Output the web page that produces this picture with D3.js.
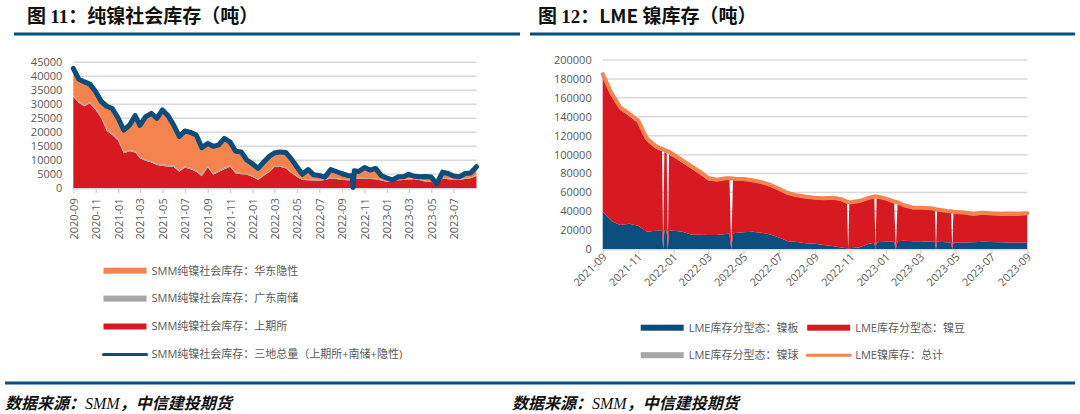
<!DOCTYPE html>
<html>
<head>
<meta charset="utf-8">
<script src="https://cdn.jsdelivr.net/npm/d3@7"></script>
<style>
  body { margin: 0; background: #fff; }
  svg { display: block; }
</style>
</head>
<body>
<div class="chart"></div>
<script>
// 图 11: SMM 纯镍社会库存 (吨), 半月取值
const smmDates = [
  '2020-09-01','2020-09-16','2020-10-01','2020-10-16','2020-11-01','2020-11-16','2020-12-01','2020-12-16',
  '2021-01-01','2021-01-16','2021-02-01','2021-02-16','2021-03-01','2021-03-16','2021-04-01','2021-04-16',
  '2021-05-01','2021-05-16','2021-06-01','2021-06-16','2021-07-01','2021-07-16','2021-08-01','2021-08-16',
  '2021-09-01','2021-09-16','2021-10-01','2021-10-16','2021-11-01','2021-11-16','2021-12-01','2021-12-16',
  '2022-01-01','2022-01-16','2022-02-01','2022-02-16','2022-03-01','2022-03-16','2022-04-01','2022-04-16',
  '2022-05-01','2022-05-16','2022-06-01','2022-06-16','2022-07-01','2022-07-16','2022-08-01','2022-08-16',
  '2022-09-01','2022-09-16','2022-09-28','2022-10-01','2022-10-04','2022-10-16','2022-11-01','2022-11-16',
  '2022-12-01','2022-12-16','2023-01-01','2023-01-16','2023-02-01','2023-02-16','2023-03-01','2023-03-16',
  '2023-04-01','2023-04-16','2023-05-01','2023-05-16','2023-06-01','2023-06-16','2023-07-01','2023-07-16',
  '2023-08-01','2023-08-16','2023-09-01'
];
const smmShfe = [
  32700,30500,29300,30300,28000,25000,20500,19000,
  17000,12500,13200,12800,10700,9800,9200,8300,
  8000,7800,7600,5900,7400,6800,5900,4300,
  7500,4800,5800,6800,7700,5300,5000,4900,
  4000,3000,4600,5800,7600,7700,7200,5500,
  4100,3000,2900,2800,2700,3000,3500,3300,
  3000,2900,2900,200,3500,3500,3400,3300,
  3200,2800,2300,2500,2900,3000,3100,3200,
  2900,2300,2300,1100,3500,3200,3000,3000,
  3300,3600,4400
];
const smmGuangdong = [
  500,500,500,500,500,500,500,500,
  500,500,500,500,500,500,500,500,
  500,500,500,500,500,500,500,500,
  500,500,500,500,500,500,500,500,
  300,300,300,300,300,300,300,300,
  300,300,300,300,300,300,300,300,
  300,300,300,100,300,300,300,300,
  300,300,300,300,300,300,300,300,
  300,300,300,300,300,300,300,300,
  300,300,300
];
const smmHuadong = [
  9600,8000,8200,6400,6000,5500,8300,9000,
  7500,7800,8900,12700,11300,15200,17100,16200,
  19500,17700,14400,12100,12600,12700,12600,9700,
  8000,9700,9200,10500,8300,7400,7500,4700,
  4400,3800,4600,5400,4700,5000,5300,4700,
  3300,1700,3500,1700,1600,700,2900,2400,
  1900,1400,1300,0,2500,2200,3700,2900,
  3600,1500,1000,200,900,900,1600,800,
  900,1600,1400,200,2000,1800,1100,800,
  1700,1600,3000
];
const smmTotal = [
  42800,39000,38000,37200,34500,31000,29300,28500,
  25000,20800,22600,26000,22500,25500,26800,25000,
  28000,26000,22500,18500,20500,20000,19000,14500,
  16000,15000,15500,17800,16500,13200,13000,10100,
  8700,7100,9500,11500,12600,13000,12800,10500,
  7700,5000,6700,4800,4600,4000,6700,6000,
  5200,4600,4500,300,6300,6000,7400,6500,
  7100,4600,3600,3000,4100,4200,5000,4300,
  4100,4200,4000,1600,5800,5300,4400,4100,
  5300,5500,7700
];
const smmYTicks = [0,5000,10000,15000,20000,25000,30000,35000,40000,45000];
const smmXTicks = ['2020-09','2020-11','2021-01','2021-03','2021-05','2021-07','2021-09','2021-11',
  '2022-01','2022-03','2022-05','2022-07','2022-09','2022-11','2023-01','2023-03','2023-05','2023-07'];

// 图 12: LME 镍库存 (吨), 0 为缺失日
const lmeDates = [
  '2021-09-01','2021-09-16','2021-10-01','2021-10-16','2021-11-01','2021-11-16','2021-12-01','2021-12-12',
  '2021-12-14','2021-12-16','2021-12-20','2021-12-22','2021-12-24','2022-01-01','2022-01-16','2022-02-01',
  '2022-02-16','2022-03-01','2022-03-16','2022-04-01','2022-04-07','2022-04-10','2022-04-13','2022-04-16',
  '2022-05-01','2022-05-16','2022-06-01','2022-06-16','2022-07-01','2022-07-16','2022-08-01','2022-08-16',
  '2022-09-01','2022-09-16','2022-10-01','2022-10-16','2022-10-26','2022-10-28','2022-10-30','2022-11-16',
  '2022-12-01','2022-12-12','2022-12-14','2022-12-16','2023-01-01','2023-01-15','2023-01-18','2023-01-21',
  '2023-02-01','2023-02-16','2023-03-01','2023-03-16','2023-03-26','2023-03-28','2023-03-30','2023-04-16',
  '2023-04-23','2023-04-25','2023-04-27','2023-05-01','2023-05-16','2023-06-01','2023-06-16','2023-07-01',
  '2023-07-16','2023-08-01','2023-08-16','2023-09-01'
];
const lmePlate = [
  39700,30000,25700,27000,25000,18600,19500,20200,
  0,20400,20200,0,20000,19500,18600,15500,
  15300,15100,15000,16200,16500,0,16800,17200,
  18000,18600,17500,15600,12500,8500,7800,6500,
  5800,4500,3500,2000,1200,0,1000,2000,
  5500,7000,0,7500,8000,8000,0,8500,
  9100,8500,8500,8000,8000,0,8000,7500,
  7300,0,7200,7200,7300,7500,8000,7600,
  7400,7200,7100,7000
];
const lmeBean = [
  142800,132500,121800,114000,108500,95900,87000,83500,
  0,82100,81000,0,80000,78000,72900,69500,
  63700,57900,57000,57300,57000,0,56500,55800,
  54800,52900,52000,50900,50000,49500,47700,47600,
  47200,47900,49500,49500,47500,0,47000,47500,
  47000,47300,0,47300,44500,41500,0,40000,
  36400,34500,34300,34500,33800,0,33000,32000,
  31800,0,31500,31300,30500,28800,29700,29200,
  28900,29300,29300,30000
];
const lmeBall = [
  2500,2500,2500,2500,2500,2500,2500,2500,
  0,2500,2500,0,2500,2500,2500,2500,
  2500,2500,1500,1500,1500,0,1500,1500,
  1500,1500,1500,1500,1500,1500,1500,1500,
  1500,1500,1500,1500,1500,0,1500,1500,
  1500,1500,0,1000,1000,1000,0,1000,
  1000,1000,1000,1000,1000,0,1000,1000,
  1000,0,1000,1000,1000,1000,1000,1000,
  1000,1000,1000,1000
];
const lmeTotal = [
  185000,165000,150000,143500,136000,117000,109000,106200,
  null,105000,104000,null,103000,100000,94000,87500,
  81500,75500,73500,75000,75000,null,74800,74500,
  74300,73000,71000,68000,64000,59500,57000,55600,
  54500,53900,54500,53000,50200,null,49500,51000,
  54000,55800,null,55800,53500,50500,null,49500,
  46500,44000,43800,43500,42800,null,42000,40500,
  40100,null,39700,39500,38800,37300,38700,37800,
  37300,37500,37400,38000
];
const lmeYTicks = [0,20000,40000,60000,80000,100000,120000,140000,160000,180000,200000];
const lmeXTicks = ['2021-09','2021-11','2022-01','2022-03','2022-05','2022-07','2022-09','2022-11',
  '2023-01','2023-03','2023-05','2023-07','2023-09'];

const NUM_FONT = "'Open Sans', 'Noto Sans CJK SC', sans-serif";
const CJK_FONT = "'Noto Sans CJK SC', sans-serif";
const LABEL_COLOR = '#595959';
const GRID_COLOR = '#d9d9d9';
const BLUE = '#0b4d7c';
const RED = '#d71a21';
const ORANGE = '#f5834e';
const GRAY = '#a6a6a6';

const parseDay = d3.timeParse('%Y-%m-%d');
const parseMonth = d3.timeParse('%Y-%m');

const svg = d3.select('.chart')
  .append('svg')
  .attr('width', 1080)
  .attr('height', 414);

/******************** 面积堆叠 + 总量线 ********************/
function drawPanel({dates, layers, totals, totalColor, totalWidth, xDomain, xRange, yDomain, yRange,
                    yTicks, xTicks, labelAngle}) {
  const x = d3.scaleTime(xDomain.map(parseDay), xRange);
  const y = d3.scaleLinear(yDomain, yRange);

  const rows = dates.map((d, i) => {
    const r = {date: parseDay(d)};
    layers.forEach(l => { r[l.key] = l.values[i]; });
    return r;
  });
  const stacked = d3.stack().keys(layers.map(l => l.key))(rows);

  const g = svg.append('g');

  // 눈금선
  g.append('g')
    .selectAll('line')
    .data(yTicks)
    .join('line')
      .attr('x1', xRange[0])
      .attr('x2', xRange[1])
      .attr('y1', d => y(d))
      .attr('y2', d => y(d))
      .attr('stroke', GRID_COLOR)
      .attr('stroke-width', 1.5);

  // y축 레이블
  g.append('g')
    .selectAll('text')
    .data(yTicks)
    .join('text')
      .attr('x', xRange[0] - 11)
      .attr('y', d => y(d))
      .attr('dy', '0.35em')
      .attr('text-anchor', 'end')
      .attr('font-family', NUM_FONT)
      .attr('font-size', 11)
      .attr('fill', LABEL_COLOR)
      .text(d => d);

  // 면적
  const area = d3.area()
    .x(d => x(d.data.date))
    .y0(d => y(d[0]))
    .y1(d => y(d[1]));
  g.append('g')
    .selectAll('path')
    .data(stacked)
    .join('path')
      .attr('fill', (d, i) => layers[i].color)
      .attr('d', area);

  // x축
  const xAxis = d3.axisBottom(x)
    .tickValues(xTicks.map(parseMonth))
    .tickFormat(d3.timeFormat('%Y-%m'))
    .tickSize(5)
    .tickSizeOuter(0);
  const ax = g.append('g')
    .attr('transform', `translate(0, ${yRange[0]})`)
    .call(xAxis);
  ax.select('.domain').attr('stroke', GRID_COLOR).attr('stroke-width', 1.5);
  ax.selectAll('.tick line').attr('stroke', GRID_COLOR).attr('stroke-width', 1.5);
  ax.selectAll('text')
    .attr('font-family', NUM_FONT)
    .attr('font-size', 11)
    .attr('fill', LABEL_COLOR)
    .attr('text-anchor', 'end');
  if (labelAngle === -90) {
    ax.selectAll('text')
      .attr('x', -10)
      .attr('y', 0)
      .attr('dy', '0.35em')
      .attr('transform', 'rotate(-90)');
  } else {
    ax.selectAll('text')
      .attr('x', -3)
      .attr('y', 5)
      .attr('dy', '0.35em')
      .attr('transform', `rotate(${labelAngle})`);
  }

  // 총량 선
  const line = d3.line()
    .x(d => x(d.date))
    .y(d => y(d.v));
  const pts = dates.map((d, i) => ({date: parseDay(d), v: totals[i]})).filter(d => d.v !== null);
  g.append('path')
    .datum(pts)
    .attr('fill', 'none')
    .attr('stroke', totalColor)
    .attr('stroke-width', totalWidth)
    .attr('stroke-linejoin', 'round')
    .attr('stroke-linecap', 'round')
    .attr('d', line);
}

drawPanel({
  dates: smmDates,
  layers: [
    {key: 'shfe', values: smmShfe, color: RED},
    {key: 'gd', values: smmGuangdong, color: GRAY},
    {key: 'hd', values: smmHuadong, color: ORANGE}
  ],
  totals: smmTotal,
  totalColor: BLUE,
  totalWidth: 5,
  xDomain: ['2020-09-01', '2023-09-01'],
  xRange: [73.3, 476.5],
  yDomain: [0, 45000],
  yRange: [188.3, 62.3],
  yTicks: smmYTicks,
  xTicks: smmXTicks,
  labelAngle: -90
});

drawPanel({
  dates: lmeDates,
  layers: [
    {key: 'plate', values: lmePlate, color: BLUE},
    {key: 'bean', values: lmeBean, color: RED},
    {key: 'ball', values: lmeBall, color: GRAY}
  ],
  totals: lmeTotal,
  totalColor: ORANGE,
  totalWidth: 4,
  xDomain: ['2021-09-01', '2023-09-01'],
  xRange: [602.7, 1027.3],
  yDomain: [0, 200000],
  yRange: [249.3, 60],
  yTicks: lmeYTicks,
  xTicks: lmeXTicks,
  labelAngle: -45
});

/******************** 범례 ********************/
const smmLegend = [
  {text: 'SMM纯镍社会库存：华东隐性', color: ORANGE, type: 'rect'},
  {text: 'SMM纯镍社会库存：广东南储', color: GRAY, type: 'rect'},
  {text: 'SMM纯镍社会库存：上期所', color: RED, type: 'rect'},
  {text: 'SMM纯镍社会库存：三地总量（上期所+南储+隐性)', color: BLUE, type: 'line'}
];
const lmeLegend = [
  {text: 'LME库存分型态：镍板', color: BLUE, type: 'rect'},
  {text: 'LME库存分型态：镍豆', color: RED, type: 'rect'},
  {text: 'LME库存分型态：镍球', color: GRAY, type: 'rect'},
  {text: 'LME镍库存：总计', color: ORANGE, type: 'line'}
];

function drawLegend(items, pos) {
  const lg = svg.append('g')
    .selectAll('g')
    .data(items)
    .join('g')
      .attr('transform', (d, i) => `translate(${pos(i)[0]}, ${pos(i)[1]})`);
  lg.filter(d => d.type === 'rect')
    .append('rect')
      .attr('x', 0).attr('y', -3)
      .attr('width', 43).attr('height', 6)
      .attr('fill', d => d.color);
  lg.filter(d => d.type === 'line')
    .append('line')
      .attr('x1', 0).attr('x2', 43)
      .attr('stroke', d => d.color)
      .attr('stroke-width', 3)
      .attr('stroke-linecap', 'round');
  lg.append('text')
    .attr('x', 48)
    .attr('dy', '0.35em')
    .attr('font-family', NUM_FONT)
    .attr('font-size', 11)
    .attr('fill', LABEL_COLOR)
    .text(d => d.text);
}
drawLegend(smmLegend, i => [103.5, 270.7 + i * 27.9]);
drawLegend(lmeLegend, i => [640.7 + (i % 2) * 166.5, 327.7 + Math.floor(i / 2) * 27.5]);

/******************** 제목, 출처 ********************/
const titles = [
  {x: 27, pre: '图 ', num: '11', post: '：纯镍社会库存（吨）'},
  {x: 538, pre: '图 ', num: '12', post: '：LME 镍库存（吨）'}
];
titles.forEach(t => {
  const txt = svg.append('text')
    .attr('x', t.x)
    .attr('y', 23)
    .attr('font-family', CJK_FONT)
    .attr('font-weight', 'bold')
    .attr('font-size', 19)
    .attr('fill', '#111');
  txt.append('tspan').text(t.pre);
  txt.append('tspan').attr('font-family', "'Liberation Serif', serif").text(t.num);
  txt.append('tspan').text(t.post);
});
svg.append('rect').attr('x', 14).attr('y', 32.5).attr('width', 506).attr('height', 3).attr('fill', BLUE);
svg.append('rect').attr('x', 530).attr('y', 32.5).attr('width', 545).attr('height', 3).attr('fill', BLUE);
svg.append('rect').attr('x', 5).attr('y', 381.5).attr('width', 1070).attr('height', 3).attr('fill', BLUE);

[5, 512].forEach(x0 => {
  const src = svg.append('text')
    .attr('x', x0)
    .attr('y', 409)
    .attr('font-family', CJK_FONT)
    .attr('font-weight', 'bold')
    .attr('font-style', 'italic')
    .attr('font-size', 16)
    .attr('fill', '#111');
  src.append('tspan').text('数据来源：');
  src.append('tspan').attr('font-family', "'Liberation Serif', serif").attr('font-weight', 'normal').text('SMM');
  src.append('tspan').text('，中信建投期货');
});
</script>
</body>
</html>
